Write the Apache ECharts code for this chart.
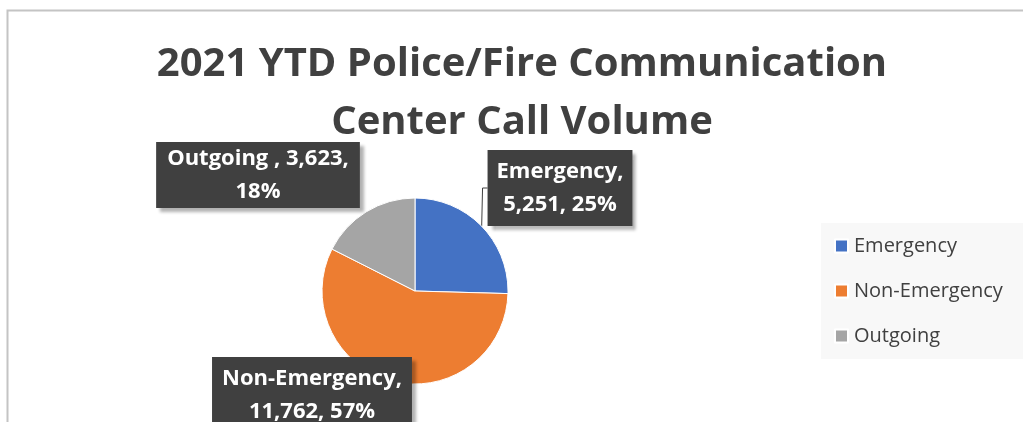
<!DOCTYPE html>
<html>
<head>
<meta charset="utf-8">
<script src="https://cdn.jsdelivr.net/npm/echarts@6/dist/echarts.min.js"></script>
<style>
html,body{margin:0;padding:0;background:#fff;}
#chart{width:1023px;height:422px;}
</style>
</head>
<body>
<div id="chart"></div>
<script>
const titleLines = ['2021 YTD Police/Fire Communication', 'Center Call Volume'];
const categories = ['Emergency', 'Non-Emergency', 'Outgoing'];
const values = [5251, 11762, 3623];
const labelNames = ['Emergency', 'Non-Emergency', 'Outgoing '];
const percents = ['25%', '57%', '18%'];
const colors = ['#4472C4', '#ED7D31', '#A5A5A5'];

const font = '"Open Sans", "Noto Sans", sans-serif';
const labelSpots = [
  {x: 560, y: 188},
  {x: 312, y: 395},
  {x: 258, y: 175}
];
const labelPads = [[5, 9, 5, 9], [5, 10, 5, 10], [0, 11, 0, 11]];
const labelLines = [true, false, false];
const labelTexts = [
  labelNames[0] + ',\n' + values[0].toLocaleString('en-US') + ', ' + percents[0],
  labelNames[1] + ',\n' + values[1].toLocaleString('en-US') + ', ' + percents[1],
  labelNames[2] + ', ' + values[2].toLocaleString('en-US') + ',\n' + percents[2]
];

const chart = echarts.init(document.getElementById('chart'));
chart.setOption({
  animation: false,
  backgroundColor: '#ffffff',
  color: colors,
  title: {
    text: titleLines.join('\n'),
    left: 517,
    textAlign: 'center',
    top: 31,
    textStyle: {
      fontFamily: font,
      fontWeight: 'bold',
      fontSize: 40,
      lineHeight: 58,
      color: '#404040'
    }
  },
  legend: {
    orient: 'vertical',
    left: 821,
    top: 223,
    padding: [10, 50, 10, 13],
    itemWidth: 13,
    itemHeight: 13,
    itemGap: 19,
    backgroundColor: '#f8f8f8',
    icon: 'rect',
    data: categories,
    textStyle: {
      fontFamily: font,
      fontSize: 20,
      color: '#404040',
      lineHeight: 26,
      padding: [0, 0, 0, 1]
    }
  },
  graphic: [
    {
      type: 'polyline',
      silent: true,
      z: -1,
      shape: {points: [[7.5, 430], [7.5, 10.5], [1030, 10.5]]},
      style: {stroke: '#c4c4c4', lineWidth: 2, fill: null}
    }
  ],
  series: [{
    type: 'pie',
    center: [415, 291],
    radius: 93,
    startAngle: 90,
    clockwise: true,
    itemStyle: {borderColor: '#ffffff', borderWidth: 1},
    data: categories.map((c, i) => ({
      name: c,
      value: values[i],
      label: {formatter: labelTexts[i], padding: labelPads[i]},
      labelLine: {show: labelLines[i]}
    })),
    label: {
      show: true,
      color: '#ffffff',
      fontFamily: font,
      fontWeight: 'bold',
      fontSize: 22,
      lineHeight: 33,
      align: 'center',
      backgroundColor: '#404040',
      shadowColor: 'rgba(0,0,0,0.3)',
      shadowBlur: 3,
      shadowOffsetX: 4,
      shadowOffsetY: 4
    },
    labelLine: {
      show: true,
      length: 5,
      length2: 5,
      lineStyle: {color: '#404040', width: 1}
    },
    labelLayout: function (params) {
      const s = labelSpots[params.dataIndex];
      return {x: s.x, y: s.y, align: 'center', verticalAlign: 'middle', moveOverlap: null};
    }
  }]
});
</script>
</body>
</html>
